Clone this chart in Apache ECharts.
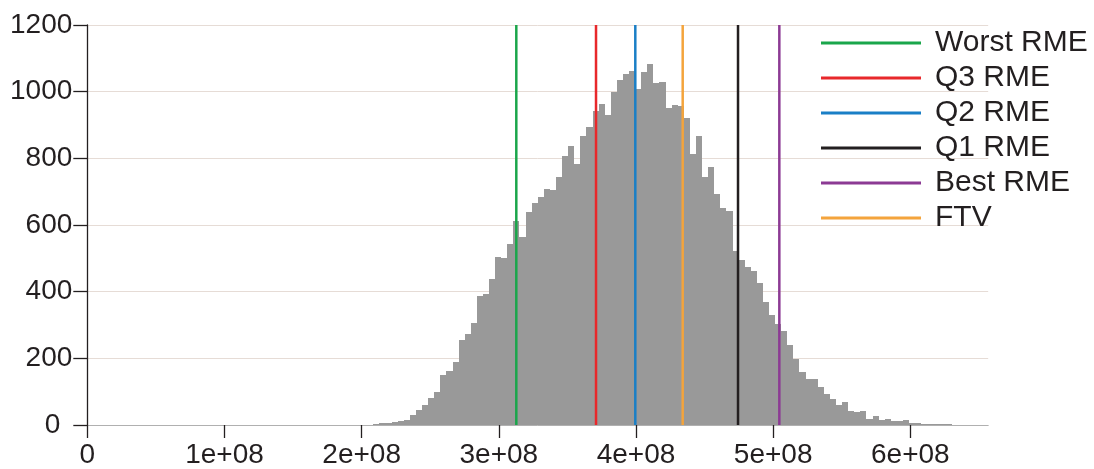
<!DOCTYPE html>
<html>
<head>
<meta charset="utf-8">
<script src="https://cdn.jsdelivr.net/npm/echarts@6/dist/echarts.min.js"></script>
<style>
  html, body { margin: 0; padding: 0; background: #ffffff; }
  #chart { width: 1094px; height: 469px; }
</style>
</head>
<body>
<div id="chart"></div>
<script>
// Histogram: fixed-width bins starting at 0; counts begin at the first non-empty bin.
const BIN_WIDTH = 4.4376e6;
const FIRST_BIN = 47;
const counts = [
  4, 7, 7, 9, 12, 15, 31, 45, 61, 81,
  99, 150, 162, 189, 255, 273, 307, 388, 394, 438,
  505, 502, 544, 612, 564, 639, 666, 684, 708, 705,
  744, 807, 837, 783, 867, 894, 942, 963, 930, 999,
  1035, 1053, 1062, 1008, 1059, 1083, 1026, 1029, 951, 960,
  957, 921, 813, 867, 744, 774, 693, 651, 642, 522,
  495, 474, 462, 426, 369, 330, 303, 282, 240, 198,
  159, 138, 138, 114, 93, 78, 60, 69, 42, 39,
  42, 18, 27, 15, 18, 12, 12, 15, 6, 6,
  4, 3, 3, 2, 2, 1, 0, 0, 0, 1,
  1
];

// Reference values drawn as vertical lines
const markerNames = ['Worst RME', 'Q3 RME', 'Q2 RME', 'Q1 RME', 'Best RME', 'FTV'];
const markerValues = [3.1275e8, 3.7086e8, 3.995e8, 4.7438e8, 5.045e8, 4.3405e8];

// Axis ticks
const xTicks = [0, 1e8, 2e8, 3e8, 4e8, 5e8, 6e8];
const yMax = 1200;
const yStep = 200;

// ---- styling ----
const FONT = '"Liberation Sans", Arial, Helvetica, sans-serif';
const TEXT = '#231f20';
const GRID_COLOR = '#e6dcd6';
const BAR_COLOR = '#999999';
const markerColors = ['#1aa64b', '#e8282b', '#1a7fc6', '#231f20', '#8c3a94', '#f4a43c'];

const bins = counts.map((c, i) => {
  const start = (FIRST_BIN + i) * BIN_WIDTH;
  return [start, start + BIN_WIDTH, c];
});
const xMax = (FIRST_BIN + counts.length) * BIN_WIDTH;

function sci(v) {
  if (v === 0) return '0';
  const e = Math.floor(Math.log10(v) + 1e-9);
  const m = +(v / Math.pow(10, e)).toFixed(3);
  return m + 'e+' + String(e).padStart(2, '0');
}

const lineSeries = markerNames.map((name, i) => ({
  name: name,
  type: 'line',
  data: [[markerValues[i], 0], [markerValues[i], yMax]],
  symbol: 'none',
  silent: true,
  z: 5,
  lineStyle: { color: markerColors[i], width: 2.5 },
  itemStyle: { color: markerColors[i] }
}));

const chart = echarts.init(document.getElementById('chart'), null, { renderer: 'canvas' });
chart.setOption({
  animation: false,
  backgroundColor: '#ffffff',
  grid: { left: 87.3, right: 1094 - 988.2, top: 25, bottom: 44, containLabel: false },
  legend: {
    data: markerNames,
    orient: 'vertical',
    left: 816,
    top: 23,
    icon: 'rect',
    itemWidth: 100,
    itemHeight: 3,
    itemGap: 5,
    selectedMode: false,
    textStyle: {
      fontFamily: FONT,
      fontSize: 30,
      color: TEXT,
      lineHeight: 28,
      padding: [0, 0, 0, 9]
    }
  },
  xAxis: {
    type: 'value',
    min: 0,
    max: xMax,
    interval: 1e8,
    axisLine: { show: true, lineStyle: { color: '#b0b0b0', width: 1 } },
    axisTick: {
      show: true, length: 13, lineStyle: { color: TEXT, width: 1.3 },
      customValues: xTicks
    },
    axisLabel: {
      fontFamily: FONT, fontSize: 28, color: TEXT, margin: 16,
      customValues: xTicks,
      formatter: sci
    },
    splitLine: { show: false }
  },
  yAxis: {
    type: 'value',
    min: 0,
    max: yMax,
    interval: yStep,
    axisLine: { show: true, lineStyle: { color: TEXT, width: 1.3 } },
    axisTick: { show: true, length: 14, lineStyle: { color: TEXT, width: 1.3 } },
    axisLabel: {
      fontFamily: FONT, fontSize: 28, color: TEXT, margin: 15,
      formatter: v => v === 0 ? '{z|0}' : String(v),
      rich: { z: { fontFamily: FONT, fontSize: 28, color: TEXT, padding: [0, 12, 0, 0] } }
    },
    splitLine: { show: true, lineStyle: { color: GRID_COLOR, width: 1 } }
  },
  series: [
    {
      name: 'counts',
      type: 'custom',
      silent: true,
      z: 2,
      data: bins,
      encode: { x: [0, 1], y: 2 },
      renderItem: function (params, api) {
        // snap bin edges to whole pixels so neighbouring bars meet without seams
        const top = api.coord([api.value(0), api.value(2)]);
        const base = api.coord([api.value(1), 0]);
        const x0 = Math.round(top[0]);
        const x1 = Math.round(base[0]);
        const y0 = Math.round(top[1]);
        const y1 = Math.round(base[1]);
        return {
          type: 'rect',
          shape: { x: x0, y: y0, width: x1 - x0, height: y1 - y0 },
          style: { fill: BAR_COLOR }
        };
      }
    }
  ].concat(lineSeries)
});
</script>
</body>
</html>
